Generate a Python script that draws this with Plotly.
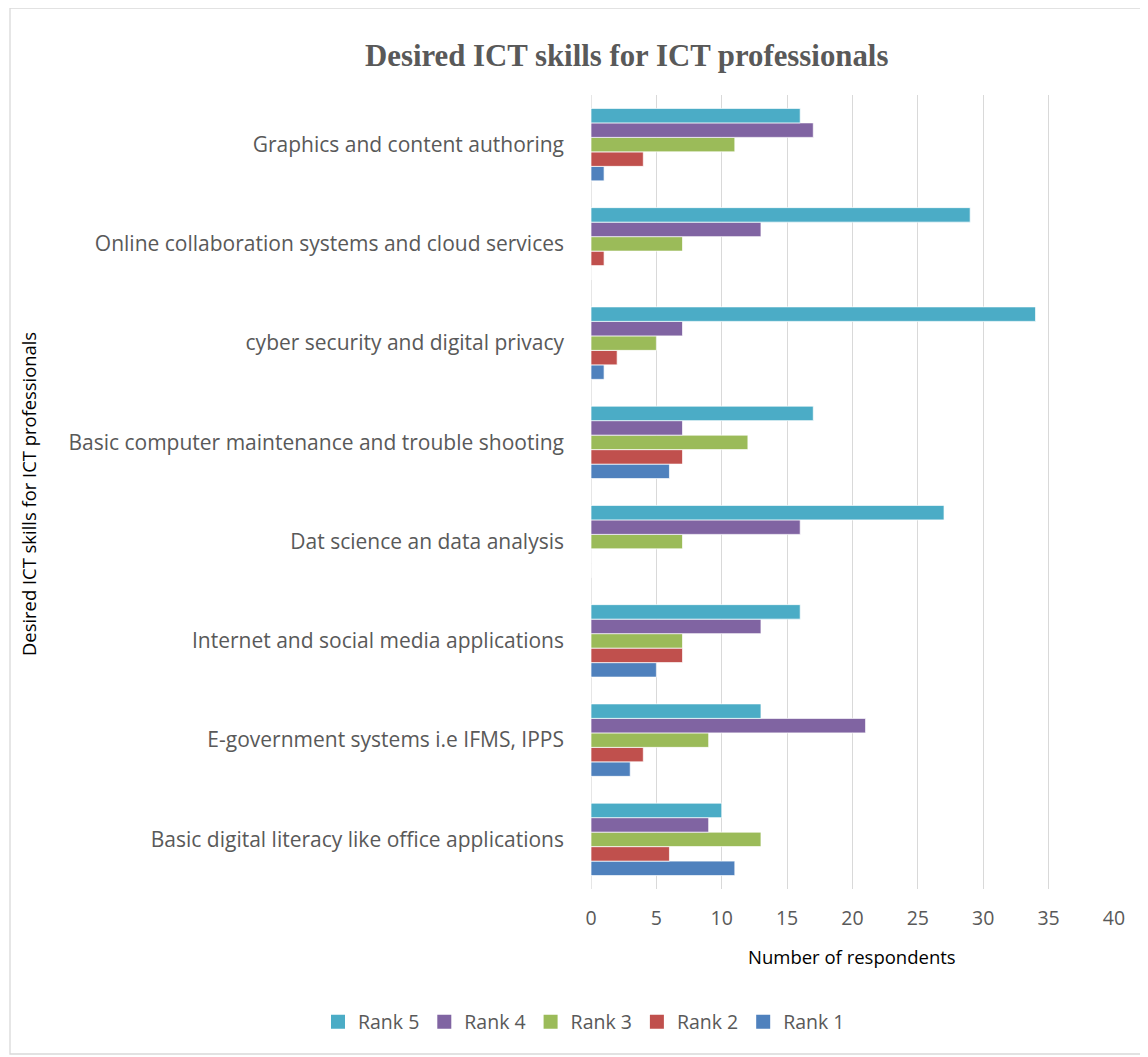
import plotly.graph_objects as go

categories = [
    "Basic digital literacy like office applications",
    "E-government systems i.e IFMS, IPPS",
    "Internet and social media applications",
    "Dat science an data analysis",
    "Basic computer maintenance and trouble shooting",
    "cyber security and digital privacy",
    "Online collaboration systems and cloud services",
    "Graphics and content authoring",
]
rank1 = [11, 3, 5, 0, 6, 1, 0, 1]
rank2 = [6, 4, 7, 0, 7, 2, 1, 4]
rank3 = [13, 9, 7, 7, 12, 5, 7, 11]
rank4 = [9, 21, 13, 16, 7, 7, 13, 17]
rank5 = [10, 13, 16, 27, 17, 34, 29, 16]
series_names = ["Rank 1", "Rank 2", "Rank 3", "Rank 4", "Rank 5"]
series_values = [rank1, rank2, rank3, rank4, rank5]
colors = ["#4F81BD", "#C0504D", "#9BBB59", "#8064A2", "#4BACC6"]
x_ticks = [0, 5, 10, 15, 20, 25, 30, 35, 40]

fig = go.Figure()
for name, vals, col in zip(series_names, series_values, colors):
    fig.add_trace(go.Bar(
        y=categories, x=vals, name=name, orientation="h", legendgroup=name,
        showlegend=False,
        marker=dict(color=col, line=dict(color="rgba(255,255,255,0.7)", width=1)),
    ))
# legend entries (square swatches like the original)
for name, col in zip(series_names, colors):
    fig.add_trace(go.Scatter(
        x=[None], y=[None], mode="markers", name=name, legendgroup=name,
        marker=dict(symbol="square", size=14, color=col), showlegend=True,
    ))

OFF = 8  # page body margin
W, H = 1148 - OFF, 1057 - OFF
L, R, T, B = 591 - OFF, 1114 - OFF, 95 - OFF, 889 - OFF
pw, ph = R - L, B - T

def px(x):
    return (x - OFF - L) / pw

def py(y):
    return (B - (y - OFF)) / ph

SANS = "Open Sans, Liberation Sans, Arial"

fig.update_layout(
    width=W, height=H,
    margin=dict(l=L, r=W - R, t=T, b=H - B),
    paper_bgcolor="white", plot_bgcolor="white",
    barmode="group", bargap=0.27, bargroupgap=0,
    showlegend=True,
    legend=dict(orientation="h", traceorder="reversed",
                x=px(584), xanchor="center", y=py(1022), yanchor="middle",
                font=dict(family=SANS, size=19.5, color="#595959"),
                itemwidth=30),
    font=dict(family=SANS),
)
fig.update_xaxes(
    range=[0, 40], tickvals=x_ticks, showgrid=True, gridcolor="#d9d9d9", gridwidth=1.3,
    zeroline=False, showline=False, ticks="",
    tickfont=dict(family=SANS, size=19.5, color="#595959"),
    ticklabelstandoff=15,
)
fig.update_yaxes(
    categoryorder="array", categoryarray=categories,
    showgrid=False, zeroline=False, showline=False, ticks="",
    tickfont=dict(family=SANS, size=21, color="#595959"),
    ticklabelstandoff=26,
)
fig.add_shape(type="line", xref="x", yref="paper", x0=0, x1=0, y0=0, y1=1,
              line=dict(color="#d9d9d9", width=1.3), layer="below")

fig.add_annotation(text="<b>Desired ICT skills for ICT professionals</b>",
                   xref="paper", yref="paper", x=px(626), y=py(56),
                   xanchor="center", yanchor="middle", showarrow=False,
                   font=dict(family="Liberation Serif, DejaVu Serif, serif", size=30.8, color="#595959"))
fig.add_annotation(text="Desired ICT skills for ICT professionals",
                   xref="paper", yref="paper", x=px(28), y=py(494),
                   xanchor="center", yanchor="middle", textangle=-90, showarrow=False,
                   font=dict(family=SANS, size=18.4, color="#000000"))
fig.add_annotation(text="Number of respondents",
                   xref="paper", yref="paper", x=px(852), y=py(956),
                   xanchor="center", yanchor="middle", showarrow=False,
                   font=dict(family=SANS, size=18.5, color="#000000"))
fig.add_shape(type="rect", xref="paper", yref="paper",
              x0=px(10), x1=px(1146), y0=py(1054), y1=py(8),
              line=dict(color="#d9d9d9", width=1.3), fillcolor="rgba(0,0,0,0)")

fig.write_html("out.html")
